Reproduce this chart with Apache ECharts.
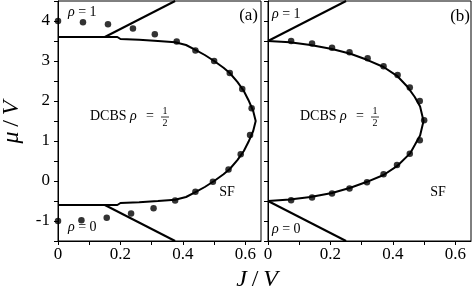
<!DOCTYPE html>
<html><head><meta charset="utf-8">
<script src="https://cdn.jsdelivr.net/npm/echarts@6/dist/echarts.min.js"></script>
<style>html,body{margin:0;padding:0;background:#fff}#c{width:472px;height:294px}</style>
</head><body><div id="c"></div>
<script>
// ---- data (J/V, mu/V) ----
const xTickLabels = ['0', '0.2', '0.4', '0.6'];
const yTickLabels = ['-1', '0', '1', '2', '3', '4'];

// panel (a)
const aLobe = [[0,3.6],[0.19,3.6],[0.2,3.55],[0.26,3.53],[0.32,3.5],[0.375,3.47],[0.41,3.4],[0.44,3.28],[0.47,3.15],[0.5,3.0],[0.53,2.83],[0.55,2.7],[0.575,2.47],[0.595,2.25],[0.61,2.02],[0.625,1.75],[0.633,1.5],[0.625,1.25],[0.61,0.98],[0.595,0.75],[0.575,0.53],[0.55,0.3],[0.53,0.17],[0.5,0.0],[0.47,-0.15],[0.44,-0.28],[0.41,-0.4],[0.375,-0.47],[0.32,-0.5],[0.26,-0.53],[0.2,-0.55],[0.19,-0.6],[0,-0.6]];
const aRho1 = [[0.15,3.6],[0.375,4.5]];
const aRho0 = [[0.15,-0.6],[0.375,-1.5]];
const aDots = [[0,4.0],[0.08,3.97],[0.16,3.92],[0.24,3.81],[0.31,3.67],[0.38,3.49],[0.44,3.26],[0.5,3.0],[0.55,2.7],[0.59,2.3],[0.62,1.82],[0.615,1.15],[0.585,0.67],[0.546,0.29],[0.496,-0.02],[0.44,-0.27],[0.375,-0.49],[0.306,-0.68],[0.234,-0.81],[0.156,-0.92],[0.075,-0.98],[0,-1.0]];

// panel (b)
const bLobe = [[0,3.5],[0.07,3.47],[0.136,3.4],[0.205,3.3],[0.264,3.18],[0.317,3.03],[0.37,2.85],[0.413,2.63],[0.445,2.37],[0.47,2.1],[0.487,1.86],[0.498,1.5],[0.487,1.14],[0.47,0.9],[0.455,0.69],[0.413,0.37],[0.37,0.15],[0.317,-0.02],[0.264,-0.17],[0.205,-0.3],[0.136,-0.4],[0.07,-0.46],[0,-0.5]];
const bRho1 = [[0,3.5],[0.25,4.5]];
const bRho0 = [[0,-0.5],[0.25,-1.5]];
const bDots = [[0.074,3.5],[0.141,3.44],[0.205,3.33],[0.261,3.22],[0.319,3.07],[0.37,2.87],[0.415,2.65],[0.454,2.34],[0.486,2.0],[0.5,1.52],[0.486,1.02],[0.454,0.68],[0.413,0.4],[0.37,0.17],[0.317,-0.03],[0.261,-0.19],[0.205,-0.31],[0.141,-0.41],[0.074,-0.48]];

const SERIF = '"Liberation Serif", "DejaVu Serif", serif';

function xFmt(v) {
  const k = Math.round(v * 10);
  if (Math.abs(v * 10 - k) > 1e-6 || k % 2 !== 0) return '';
  return xTickLabels[k / 2] || '';
}
function yFmt(v) {
  const k = Math.round(v);
  if (Math.abs(v - k) > 1e-6) return '';
  const s = String(k);
  return yTickLabels.indexOf(s) >= 0 ? s : '';
}

function xAxis(g) {
  return {
    type: 'value', gridIndex: g, min: 0, max: 0.65, interval: 0.1,
    axisLine: { show: true, onZero: false, lineStyle: { color: '#000', width: 1 } },
    axisTick: { show: true, length: 4, lineStyle: { color: '#000' } },
    axisLabel: { formatter: xFmt, fontFamily: SERIF, fontSize: 17, color: '#000', margin: 5, showMaxLabel: false },
    splitLine: { show: false }
  };
}
function yAxis(g, labels) {
  return {
    type: 'value', gridIndex: g, min: -1.5, max: 4.5, interval: 0.5,
    axisLine: { show: true, onZero: false, lineStyle: { color: '#000', width: 1 } },
    axisTick: { show: true, length: 4, lineStyle: { color: '#000' } },
    axisLabel: { show: labels, formatter: yFmt, fontFamily: SERIF, fontSize: 17, color: '#000', margin: 8 },
    splitLine: { show: false }
  };
}
function line(data, g) {
  return { type: 'line', xAxisIndex: g, yAxisIndex: g, data: data, showSymbol: false, symbol: 'none',
    lineStyle: { color: '#000', width: 2 }, smooth: false, silent: true, animation: false, z: 3 };
}
function dots(data, g) {
  return { type: 'scatter', xAxisIndex: g, yAxisIndex: g, data: data, symbol: 'circle', symbolSize: 6.5,
    itemStyle: { color: '#000' }, clip: false, silent: true, animation: false, z: 4 };
}

function txt(x, y, text, size, align, extra) {
  return Object.assign({
    type: 'text', x: x, y: y, silent: true,
    style: {
      text: text, fill: '#000', font: size + 'px ' + SERIF,
      textAlign: align || 'left', textVerticalAlign: 'middle',
      rich: { i: { fontStyle: 'italic', fontSize: size, fontFamily: SERIF, fill: '#000' } }
    }
  }, extra || {});
}
function fraction(cx, cy) {
  return [
    txt(cx, cy - 6, '1', 10, 'center'),
    { type: 'line', silent: true, shape: { x1: cx - 4, y1: cy, x2: cx + 4, y2: cy }, style: { stroke: '#000', lineWidth: 0.8 } },
    txt(cx, cy + 6.5, '2', 10, 'center')
  ];
}

const chart = echarts.init(document.getElementById('c'), null, { renderer: 'canvas' });
const graphic = [].concat(
  [
    txt(68, 12, '{i|ρ} = 1', 14),
    txt(68, 227, '{i|ρ} = 0', 14),
    txt(258, 16, '(a)', 17, 'right'),
    txt(90, 116, 'DCBS {i|ρ}', 14),
    txt(146, 116, '=', 14),
    txt(227, 192, 'SF', 14, 'center'),
    txt(272, 14, '{i|ρ} = 1', 14),
    txt(272, 229, '{i|ρ} = 0', 14),
    txt(470, 17, '(b)', 17, 'right'),
    txt(300, 116, 'DCBS {i|ρ}', 14),
    txt(356, 116, '=', 14),
    txt(438, 192, 'SF', 14, 'center'),
    txt(257, 280, '{i|J}\u2009/\u2009{i|V}', 24, 'center'),
    txt(12, 122, '{i|μ}\u2009/\u2009{i|V}', 24, 'center', { rotation: Math.PI / 2 })
  ],
  fraction(165, 117),
  fraction(375, 117)
);

chart.setOption({
  animation: false,
  backgroundColor: '#fff',
  grid: [
    { left: 58, top: 1, width: 203, height: 240, show: true, borderColor: '#000', borderWidth: 1, backgroundColor: 'transparent' },
    { left: 268, top: 1, width: 203, height: 240, show: true, borderColor: '#000', borderWidth: 1, backgroundColor: 'transparent' }
  ],
  xAxis: [xAxis(0), xAxis(1)],
  yAxis: [yAxis(0, true), yAxis(1, false)],
  series: [
    line(aLobe, 0), line(aRho1, 0), line(aRho0, 0), dots(aDots, 0),
    line(bLobe, 1), line(bRho1, 1), line(bRho0, 1), dots(bDots, 1)
  ],
  graphic: graphic
});
</script>
</body></html>
